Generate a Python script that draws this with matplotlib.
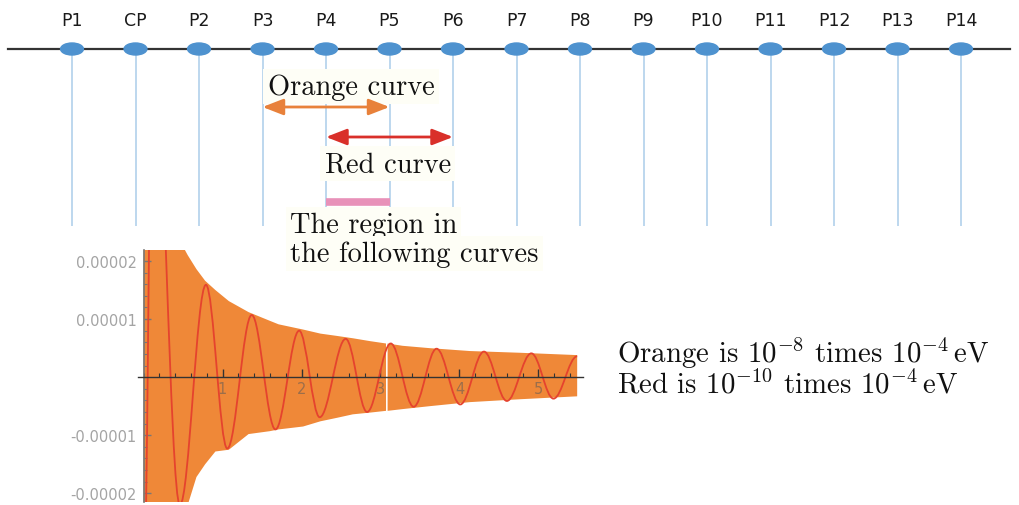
import numpy as np
import matplotlib
matplotlib.use('Agg')
import matplotlib.pyplot as plt
from matplotlib.patches import Ellipse, PathPatch
from matplotlib.path import Path
from matplotlib.ticker import FixedLocator, FixedFormatter, MultipleLocator

plt.rcParams['mathtext.fontset'] = 'cm'

# stations along the top line
stations = ['P1', 'CP', 'P2', 'P3', 'P4', 'P5', 'P6', 'P7', 'P8', 'P9',
            'P10', 'P11', 'P12', 'P13', 'P14']
orange_span = ('P3', 'P5')
red_span = ('P4', 'P6')
region_span = ('P4', 'P5')

# orange band (envelope, units of 1e-5)
env_x = [0.0, 0.45, 0.52, 0.56, 0.67, 0.78, 0.91, 1.08, 1.33, 1.6, 1.71, 2.02,
         2.24, 2.45, 2.65, 2.87, 3.07, 3.08, 3.09, 3.28, 3.62, 4.13, 4.77, 5.49]
env_top = [2.6, 2.6, 2.2, 2.1, 1.86, 1.66, 1.5, 1.31, 1.12, 0.97, 0.91, 0.82,
           0.75, 0.71, 0.67, 0.62, 0.58, 0.58, 0.58, 0.54, 0.5, 0.45, 0.42, 0.38]
env_bot = [-2.6, -2.6, -2.6, -2.2, -1.72, -1.5, -1.28, -1.25, -0.98, -0.93, -0.9, -0.85,
           -0.76, -0.7, -0.64, -0.61, -0.58, -0.58, -0.58, -0.55, -0.5, -0.43, -0.38, -0.33]
gap = (3.075, 3.085)

# red curve: extrema (x, value in 1e-5)
red_x = [0.0, 0.12, 0.46, 0.79, 1.06, 1.37, 1.67, 1.97, 2.23, 2.56, 2.83, 3.13,
         3.42, 3.71, 4.01, 4.31, 4.60, 4.91, 5.19, 5.49]
red_y = [-4.0, 6.0, -2.2, 1.59, -1.23, 1.07, -0.9, 0.8, -0.69, 0.66, -0.6, 0.58,
         -0.51, 0.49, -0.47, 0.44, -0.41, 0.41, -0.37, 0.36]

xticks = [1, 2, 3, 4, 5]
yticks = [-2e-5, -1e-5, 1e-5, 2e-5]
ytick_labels = ['-0.00002', '-0.00001', '0.00001', '0.00002']

ORANGE = '#EF8838'
RED = '#E5432E'
BLUE = '#4E92CF'


def wave_path(xs, ys, k=0.36):
    verts = [(xs[0], ys[0])]
    codes = [Path.MOVETO]
    for x0, y0, x1, y1 in zip(xs[:-1], ys[:-1], xs[1:], ys[1:]):
        dx = x1 - x0
        verts += [(x0 + k*dx, y0), (x1 - k*dx, y1), (x1, y1)]
        codes += [Path.CURVE4]*3
    return Path(verts, codes)


fig = plt.figure(figsize=(10.19, 5.06), dpi=100)

# ---- top diagram ----
ax0 = fig.add_axes([0, 0, 1, 1], zorder=0)
ax0.set_xlim(-72/63.5, (1019-72)/63.5)
ax0.set_ylim(506, 0)
ax0.axis('off')
idx = np.arange(len(stations))
pos = {s: i for i, s in enumerate(stations)}

ax0.plot([-1.008, 14.77], [50, 50], color='#333333', lw=1.6, zorder=2)
ax0.vlines(idx, 50, 227, color='#BDD7EE', lw=1.4, zorder=1)
for i, name in enumerate(stations):
    ax0.add_patch(Ellipse((i, 50), 0.36, 12, color=BLUE, zorder=3))
    ax0.text(i, 26, name, ha='center', va='baseline', fontsize=12.5, color='#1a1a1a')

box = dict(boxstyle='square,pad=0.15', facecolor='#FEFEF6', edgecolor='none')
tfont = dict(family='cmr10', fontsize=20.5, color='#111111')

ax0.text(3.08, 95, 'Orange curve', ha='left', va='baseline', bbox=box, zorder=4, **tfont)
ax0.annotate('', xy=(pos[orange_span[1]], 108), xytext=(pos[orange_span[0]], 108),
             arrowprops=dict(arrowstyle='<|-|>,head_length=0.9,head_width=0.35',
                             color='#E8813A', lw=2, mutation_scale=14,
                             shrinkA=0, shrinkB=0), zorder=5)
ax0.annotate('', xy=(pos[red_span[1]], 138), xytext=(pos[red_span[0]], 138),
             arrowprops=dict(arrowstyle='<|-|>,head_length=0.9,head_width=0.35',
                             color='#D9302A', lw=2, mutation_scale=14,
                             shrinkA=0, shrinkB=0), zorder=5)
ax0.text(3.98, 172, 'Red curve', ha='left', va='baseline', bbox=box, zorder=4, **tfont)
ax0.plot([pos[region_span[0]], pos[region_span[1]]], [203, 203], color='#E891B9',
         lw=5.5, solid_capstyle='butt', zorder=4)
ax0.text(3.43, 233, 'The region in', ha='left', va='baseline', bbox=box, zorder=4, **tfont)
ax0.text(3.43, 262, 'the following curves', ha='left', va='baseline', bbox=box, zorder=4, **tfont)

rfont = dict(family='cmr10', fontsize=20.8, color='#111111')
ax0.text(8.58, 363, r'Orange is $10^{-8}$ times $10^{-4}\,$eV', ha='left', va='baseline', **rfont)
ax0.text(8.58, 394, r'Red is $10^{-10}$ times $10^{-4}\,$eV', ha='left', va='baseline', **rfont)

# ---- lower plot ----
ax = fig.add_axes([138/1019, 3/506, 444.7/1019, 252/506], zorder=1)
ax.patch.set_alpha(0)

ex = np.array(env_x)
scale = 1e-5
ax.fill_between(ex, np.array(env_bot)*scale, np.array(env_top)*scale,
                where=~((ex > gap[0]) & (ex < gap[1])), color=ORANGE, lw=0, zorder=1)

ax.add_patch(PathPatch(wave_path(red_x, [v*scale for v in red_y]), fill=False,
                       edgecolor=RED, lw=1.3, zorder=2))

ax.set_xlim(-0.07, 5.56)
ax.set_ylim(-2.15e-5, 2.19e-5)
for s in ['top', 'right']:
    ax.spines[s].set_visible(False)
ax.spines['left'].set_position(('data', 0))
ax.spines['bottom'].set_position(('data', 0))
ax.spines['left'].set_color('#777777')
ax.spines['left'].set_linewidth(1.2)
ax.spines['bottom'].set_color('#333333')
ax.spines['bottom'].set_linewidth(1.0)

ax.xaxis.set_major_locator(FixedLocator(xticks))
ax.xaxis.set_minor_locator(MultipleLocator(0.2))
ax.yaxis.set_major_locator(FixedLocator(yticks))
ax.yaxis.set_major_formatter(FixedFormatter(ytick_labels))
ax.yaxis.set_minor_locator(MultipleLocator(0.2e-5))

lab = (0.35, 0.35, 0.35, 0.55)
ax.tick_params(axis='x', which='major', direction='in', length=6, width=1, color='#333333',
               labelsize=10.5, labelcolor=lab, pad=3)
ax.tick_params(axis='x', which='minor', direction='in', length=3, width=0.8, color='#333333')
ax.tick_params(axis='y', which='major', direction='in', length=5, width=1, color='#777777',
               labelsize=10.5, labelcolor=lab, pad=5)
ax.tick_params(axis='y', which='minor', direction='in', length=2.5, width=0.8, color='#777777')

fig.savefig('out.png', dpi=100)
